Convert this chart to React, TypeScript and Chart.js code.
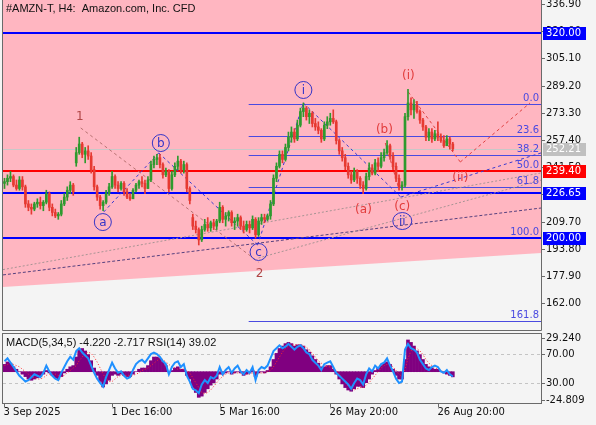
import React, { useEffect, useRef } from 'react';
import { Chart, registerables } from 'chart.js';
Chart.register(...registerables);

// ---------- DATA ----------
const titleText = '#AMZN-T, H4:  Amazon.com, Inc. CFD';
const indicatorText = 'MACD(5,34,5) -4.220 -2.717 RSI(14) 39.02';

// OHLC per H4 bar [open, high, low, close]
const candles: number[][] = [
  [232,235,229,233],[233,237,231,235],[235,239,233,236],[236,237,230,231],[231,234,228,229],
  [229,236,228,234],[234,236,228,230],[230,231,218,220],[220,222,216,218],[218,220,214,217],
  [217,221,216,220],[220,223,218,221],[221,224,217,219],[219,222,216,221],[221,228,220,226],
  [226,227,216,218],[218,220,213,215],[215,217,212,213],[213,215,211,214],[214,222,213,220],
  [220,226,219,224],[224,230,222,228],[228,233,226,231],[231,232,225,227],[244,253,242,250],
  [250,259,249,255],[255,256,247,249],[249,253,244,251],[251,254,246,248],[248,250,238,240],
  [240,242,228,230],[230,231,222,224],[224,225,217,219],[219,222,216,221],[221,228,220,226],
  [226,232,225,230],[230,239,229,236],[236,237,229,231],[231,233,227,229],[229,233,228,232],
  [232,233,225,227],[227,229,223,224],[224,226,222,223],[223,229,223,228],[228,232,227,231],
  [231,234,229,233],[233,236,230,232],[232,234,226,229],[229,236,229,234],[234,245,233,243],
  [243,248,241,246],[246,249,243,247],[247,249,241,243],[243,244,235,237],[237,241,236,239],
  [239,240,227,229],[229,239,228,237],[237,244,236,242],[242,248,240,245],[245,246,238,240],
  [240,245,238,243],[243,244,227,229],[229,230,220,222],[212,214,205,207],[207,210,203,205],
  [205,206,196,199],[199,207,198,205],[205,211,204,208],[208,212,204,206],[206,210,204,209],
  [209,211,205,207],[207,211,205,210],[210,221,209,218],[218,219,209,211],[211,215,207,213],
  [213,216,210,215],[215,216,207,209],[209,212,205,210],[210,214,207,212],[212,213,205,207],
  [207,210,203,205],[205,210,204,208],[208,210,203,206],[206,213,205,211],[211,212,200,202],
  [202,212,201,210],[210,214,208,212],[212,214,209,211],[211,214,210,213],[213,222,211,220],
  [220,237,219,235],[235,244,233,242],[242,251,241,249],[249,251,244,246],[246,255,245,253],
  [253,262,251,259],[259,265,256,262],[262,264,256,258],[258,269,257,266],[266,276,265,274],
  [274,279,271,276],[276,277,269,271],[271,275,267,273],[273,274,265,267],[267,270,263,265],
  [265,268,261,263],[263,264,256,258],[258,268,257,266],[266,271,264,268],[268,273,266,270],
  [270,275,267,268],[268,269,255,257],[257,258,249,251],[251,253,245,247],[247,249,240,242],
  [242,244,235,237],[237,239,232,234],[234,241,233,239],[239,240,232,235],[235,236,229,231],
  [231,233,226,229],[229,238,228,236],[236,244,234,241],[241,243,237,238],[238,246,237,244],
  [244,247,239,242],[242,250,241,247],[247,252,245,250],[250,257,249,254],[254,255,246,248],
  [248,250,240,242],[242,244,233,235],[235,237,228,230],[230,233,228,231],[231,273,230,271],
  [271,287,269,279],[279,282,272,275],[275,281,270,278],[278,280,273,274],[274,275,267,269],
  [269,270,263,265],[265,266,257,259],[259,264,257,262],[262,264,256,258],[258,263,257,261],
  [261,268,257,259],[259,261,256,257],[257,260,253,254],[254,260,254,258],[258,259,252,255],
  [255,256,251,252.21],
];

const macdMain = [
  6,8,7, 4,2,0,-2,-4, -6,-7,-6,-5,-4, -2,1,-1,-3,-5, -6,-4, -1,2,4,5,12, 18,19,17,
  14,9,3,-3,-8, -12.5, -10,-7,-3,-2,-3, -2,-3,-4,-4, -2,0,2,3,3,5, 9,12,12,11,8,
  5,0,1,3, 4,2,2,-3,-6, -13,-17,-21,-20,-17,-14, -11,-9,-6,-2,-2,
  -1,0,-2,-1,0,-1,-3,-2,-1,1,-4,-1, 0,-1,1, 4,10,15,19,21,23,24,23,21,22,
  22,21,18,16, 13,10,7,4,4,5, 5,2,-2,-6,-10, -13,-15,-16,-14,-12,-12,-13,-9,-6,
  -2,1,3,5,7,8,6,2, -3,-6,-6, 10,26, 24,21,17,14,10, 6,4,3,2,2, 0,-1,-2,-3,-4.22,
];

const macdSignal = [
  5,6,7, 6,5,4,2,0, -2,-4,-5,-6,-6, -5,-3,-2,-2,-2, -3,-4, -3,-1,1,3,5, 9,12,15,
  16,15,12,8,3, -2, -6,-8,-8,-6,-4, -3,-3,-3,-3, -3,-2,-1,1,2,3, 5,7,9,11,10,
  8,6,4,3, 2,2,2,1,-1, -5,-9,-13,-17,-18,-17, -15,-12,-9,-6,-4,
  -2,-1,-1,-1,-1,-1,-1,-2,-2,-1,-1,-1, -1,-1,0, 1,4,8,12,16,19,21,22,22,22,
  22,21,20,18, 15,12,9,7,5,4, 4,3,1,-2,-5, -9,-12,-14,-15,-14,-13,-13,-11,-9,
  -6,-3,0,3,5,6,6,4, 1,-2,-4, 2,11, 17,20,19,17,14, 10,7,5,3,2, 1,0,-1,-2,-2.717,
];

const rsiValues = [
  60,64,58, 52,46,40,36,32, 34,38,42,40,38, 44,54,46,40,36, 34,44, 52,60,66,62,74, 78,72,68,
  64,54,44,36,30, 25, 38,48,58,50,44, 46,40,36,38, 48,56,60,62,58,64, 70,72,70,66,60,
  56,42,52,58, 60,52,56,40,32, 22,20,16,28,34,30, 38,36,40,52,42,
  48,52,44,50,54,46,42,48,44,52,34,48, 52,50,54, 64,74,78,82,78,80,84,80,76,80,
  82,78,72,70, 62,58,54,48,56,58, 60,52,44,40,36, 32,28,22,30,36,34,28,42,50,
  46,54,50,56,58,64,54,46, 36,30,32, 76,84, 78,76,72,62,56, 50,48,52,54,52, 46,44,48,42,39.02,
];

const priceTicks = [162.0, 177.9, 193.8, 209.7, 225.6, 241.5, 257.4, 273.3, 289.2, 305.1, 321.0, 336.9];
const levelPrices = [320.0, 239.4, 226.65, 200.0];
const levelColors = ['#0000ff', '#ff0000', '#0000ff', '#0000ff'];
const bidPrice = 252.21;
const fibHigh = 278.45;
const fibLow = 200.0;
const fibRatios = [0.0, 23.6, 38.2, 50.0, 61.8, 100.0, 161.8];
const fibStart = 81.7;
const zoneX = [-0.5, 179.5];
const zoneLow = [171.4, 191.3];
const xTickIndices = [0, 36, 72, 109, 145];
const xTickLabels = ['3 Sep 2025', '1 Dec 16:00', '5 Mar 16:00', '26 May 20:00', '26 Aug 20:00'];
const macdTickLabels = ['29.240', '70.00', '30.00', '-24.809'];

const waveLines = [
  { x1: 25.5, y1: 264.4, x2: 85.0, y2: 186.0, color: '#b87272', dash: [3, 3] },
  { x1: 33.2, y1: 215.3, x2: 51.6, y2: 249.8, color: '#3a3ad0', dash: [3, 3] },
  { x1: 51.6, y1: 249.8, x2: 84.7, y2: 196.0, color: '#3a3ad0', dash: [3, 3] },
  { x1: 84.7, y1: 196.0, x2: 100.0, y2: 279.0, color: '#3a3ad0', dash: [3, 3] },
  { x1: 100.0, y1: 279.0, x2: 132.6, y2: 224.0, color: '#3a3ad0', dash: [3, 3] },
  { x1: 132.6, y1: 224.0, x2: 179.5, y2: 249.8, color: '#3a3ad0', dash: [3, 3] },
  { x1: 127.4, y1: 255.6, x2: 131.8, y2: 229.9, color: '#e04040', dash: [3, 3] },
  { x1: 135.1, y1: 285.4, x2: 152.5, y2: 244.5, color: '#e04040', dash: [3, 3] },
  { x1: 152.5, y1: 244.5, x2: 175.8, y2: 279.0, color: '#e04040', dash: [3, 3] },
  { x1: -0.5, y1: 181.6, x2: 179.5, y2: 238.1, color: '#a89494', dash: [2, 2] },
  { x1: -0.5, y1: 178.5, x2: 179.5, y2: 217.6, color: '#56407e', dash: [3, 2] },
  { x1: 85.0, y1: 188.4, x2: 179.5, y2: 233.9, color: '#a89494', dash: [2, 2] },
];

const waveLabels = [
  { t: '1', x: 25.2, y: 270.8, kind: 'brown' },
  { t: '2', x: 85.3, y: 179.0, kind: 'brown' },
  { t: 'a', x: 32.9, y: 209.4, kind: 'circle' },
  { t: 'b', x: 52.3, y: 255.6, kind: 'circle' },
  { t: 'c', x: 85.0, y: 191.9, kind: 'circle' },
  { t: 'i', x: 100.0, y: 286.6, kind: 'circle' },
  { t: 'ii', x: 133.1, y: 210.0, kind: 'circle' },
  { t: '(a)', x: 120.1, y: 216.4, kind: 'red' },
  { t: '(b)', x: 127.1, y: 263.2, kind: 'red' },
  { t: '(c)', x: 133.1, y: 218.2, kind: 'red' },
  { t: '(i)', x: 135.1, y: 294.8, kind: 'red' },
  { t: '(ii)', x: 152.5, y: 235.1, kind: 'red' },
];

// ---------- STYLE ----------
const BG = '#f4f4f4';
const PINK = '#ffb6c1';
const FRAME = '#6a6a6a';
const AXFONT = '10px "DejaVu Sans", sans-serif';
const BULL = '#2e9a2e';
const BEAR = '#e63a32';

const mainPlugin = {
  id: 'mainDecor',
  beforeDatasetsDraw(chart: any) {
    const { ctx, chartArea: a, scales } = chart;
    const X = (v: number) => scales.x.getPixelForValue(v);
    const Y = (v: number) => scales.y.getPixelForValue(v);
    ctx.save();
    ctx.beginPath();
    ctx.rect(a.left, a.top, a.right - a.left, a.bottom - a.top);
    ctx.clip();
    ctx.fillStyle = PINK;
    ctx.beginPath();
    ctx.moveTo(X(zoneX[0]), a.top);
    ctx.lineTo(X(zoneX[1]), a.top);
    ctx.lineTo(X(zoneX[1]), Y(zoneLow[1]));
    ctx.lineTo(X(zoneX[0]), Y(zoneLow[0]));
    ctx.closePath();
    ctx.fill();

    ctx.strokeStyle = '#c8c8c8';
    ctx.lineWidth = 1;
    const yb = Math.round(Y(bidPrice)) + 0.5;
    ctx.beginPath(); ctx.moveTo(a.left, yb); ctx.lineTo(a.right, yb); ctx.stroke();

    ctx.strokeStyle = '#4a4ae0';
    fibRatios.forEach((r) => {
      const p = fibHigh - (fibHigh - fibLow) * r / 100;
      const y = Math.round(Y(p)) + 0.5;
      ctx.beginPath(); ctx.moveTo(X(fibStart), y); ctx.lineTo(a.right, y); ctx.stroke();
    });

    levelPrices.forEach((p, k) => {
      ctx.strokeStyle = levelColors[k];
      ctx.lineWidth = 2;
      const y = Math.round(Y(p));
      ctx.beginPath(); ctx.moveTo(a.left, y); ctx.lineTo(a.right, y); ctx.stroke();
    });

    ctx.lineWidth = 1;
    waveLines.forEach((l) => {
      ctx.strokeStyle = l.color;
      ctx.setLineDash(l.dash);
      ctx.beginPath(); ctx.moveTo(X(l.x1), Y(l.y1)); ctx.lineTo(X(l.x2), Y(l.y2)); ctx.stroke();
    });
    ctx.setLineDash([]);
    ctx.restore();
  },
  afterDatasetsDraw(chart: any) {
    const { ctx, chartArea: a, scales } = chart;
    const X = (v: number) => scales.x.getPixelForValue(v);
    const Y = (v: number) => scales.y.getPixelForValue(v);
    ctx.save();
    ctx.textBaseline = 'middle';
    ctx.font = '12px "DejaVu Sans", sans-serif';
    ctx.textAlign = 'center';
    waveLabels.forEach((w) => {
      const x = X(w.x), y = Y(w.y);
      if (w.kind === 'circle') {
        ctx.strokeStyle = '#3535c8';
        ctx.fillStyle = '#3535c8';
        ctx.lineWidth = 1;
        ctx.beginPath(); ctx.ellipse(x, y, w.t.length > 1 ? 9.5 : 8.5, 8.5, 0, 0, Math.PI * 2); ctx.stroke();
        ctx.fillText(w.t, x, y + 0.5);
      } else {
        ctx.fillStyle = w.kind === 'red' ? '#e23c3c' : '#b04646';
        ctx.fillText(w.t, x, y);
      }
    });
    ctx.font = AXFONT;
    ctx.fillStyle = '#4a4ae0';
    ctx.textAlign = 'right';
    ctx.textBaseline = 'bottom';
    fibRatios.forEach((r) => {
      const p = fibHigh - (fibHigh - fibLow) * r / 100;
      ctx.fillText(r.toFixed(1), a.right - 2, Math.round(Y(p)) - 1);
    });
    ctx.restore();
  },
  afterDraw(chart: any) {
    const { ctx, chartArea: a, scales } = chart;
    const Y = (v: number) => scales.y.getPixelForValue(v);
    ctx.save();
    ctx.strokeStyle = FRAME;
    ctx.lineWidth = 1;
    ctx.beginPath();
    ctx.moveTo(a.left - 0.5, a.top); ctx.lineTo(a.left - 0.5, a.bottom + 0.5);
    ctx.lineTo(a.right + 0.5, a.bottom + 0.5); ctx.lineTo(a.right + 0.5, a.top);
    ctx.stroke();
    ctx.font = AXFONT;
    ctx.textBaseline = 'middle';
    ctx.textAlign = 'left';
    ctx.fillStyle = '#111';
    priceTicks.forEach((t) => {
      const y = Math.round(Y(t)) + 0.5;
      ctx.beginPath(); ctx.moveTo(a.right, y); ctx.lineTo(a.right + 4, y); ctx.stroke();
      ctx.fillText(t.toFixed(2), a.right + 5, y);
    });
    const boxes = [
      { p: levelPrices[0], c: levelColors[0] },
      { p: bidPrice, c: '#c0c0c0' },
      { p: levelPrices[1], c: levelColors[1] },
      { p: levelPrices[2], c: levelColors[2] },
      { p: levelPrices[3], c: levelColors[3] },
    ];
    boxes.forEach((b) => {
      const y = Math.round(Y(b.p));
      ctx.fillStyle = b.c;
      ctx.fillRect(a.right + 2, y - 6, 43, 13);
      ctx.fillStyle = '#ffffff';
      ctx.fillText(b.p.toFixed(2), a.right + 5, y + 0.5);
    });
    ctx.fillStyle = '#111';
    ctx.font = '11px "Liberation Sans", sans-serif';
    ctx.fillText(titleText, 6, 9);
    ctx.restore();
  },
};

const subPlugin = {
  id: 'subDecor',
  beforeDatasetsDraw(chart: any) {
    const { ctx, chartArea: a, scales } = chart;
    ctx.save();
    ctx.strokeStyle = '#c4c4c4';
    ctx.setLineDash([3, 3]);
    ctx.lineWidth = 1;
    [70, 30].forEach((v) => {
      const y = Math.round(scales.yr.getPixelForValue(v)) + 0.5;
      ctx.beginPath(); ctx.moveTo(a.left, y); ctx.lineTo(a.right, y); ctx.stroke();
    });
    ctx.restore();
  },
  afterDraw(chart: any) {
    const { ctx, chartArea: a, scales } = chart;
    ctx.save();
    ctx.strokeStyle = FRAME;
    ctx.lineWidth = 1;
    ctx.strokeRect(a.left - 0.5, 0.5, a.right - a.left + 1, a.bottom + 1);
    ctx.font = AXFONT;
    ctx.fillStyle = '#111';
    ctx.textBaseline = 'middle';
    ctx.textAlign = 'left';
    const ys = [a.top + 2, scales.yr.getPixelForValue(70), scales.yr.getPixelForValue(30), a.bottom - 2];
    ys.forEach((y, k) => {
      const yy = Math.round(y) + 0.5;
      ctx.beginPath(); ctx.moveTo(a.right, yy); ctx.lineTo(a.right + 4, yy); ctx.stroke();
      ctx.fillText(macdTickLabels[k], a.right + 5, yy);
    });
    xTickIndices.forEach((idx, k) => {
      const x = Math.round(scales.x.getPixelForValue(idx)) + 0.5;
      ctx.beginPath(); ctx.moveTo(x, a.bottom + 1.5); ctx.lineTo(x, a.bottom + 5); ctx.stroke();
      ctx.fillText(xTickLabels[k], x - 1, a.bottom + 10);
    });
    ctx.font = '11px "Liberation Sans", sans-serif';
    ctx.fillText(indicatorText, 6, 10);
    ctx.restore();
  },
};

export default function App() {
  const mainRef = useRef<HTMLCanvasElement>(null);
  const subRef = useRef<HTMLCanvasElement>(null);

  useEffect(() => {
    const colors = candles.map((c) => (c[3] >= c[0] ? BULL : BEAR));
    const wicks = candles.map((c, i) => ({ x: i, y: [c[2], c[1]] }));
    const bodies = candles.map((c, i) => ({ x: i, y: [Math.min(c[0], c[3]), Math.max(c[0], c[3])] }));

    const main = new Chart(mainRef.current as HTMLCanvasElement, {
      type: 'bar',
      data: {
        datasets: [
          { data: wicks as any, backgroundColor: colors, barThickness: 1, grouped: false, order: 2 },
          { data: bodies as any, backgroundColor: colors, barThickness: 2, grouped: false, order: 1 },
        ],
      },
      options: {
        animation: false,
        responsive: false,
        events: [],
        layout: { padding: { left: 3, right: 55, top: 0, bottom: 3 } },
        scales: {
          x: { type: 'linear', offset: false, min: -0.5, max: 179.5, display: false },
          y: { type: 'linear', min: 146.3, max: 339.2, display: false },
        },
        plugins: { legend: { display: false }, tooltip: { enabled: false } },
      },
      plugins: [mainPlugin],
    });

    const sub = new Chart(subRef.current as HTMLCanvasElement, {
      type: 'bar',
      data: {
        datasets: [
          { type: 'line', data: rsiValues.map((v, i) => ({ x: i, y: v })), borderColor: '#1e90ff', borderWidth: 2, pointRadius: 0, yAxisID: 'yr', order: 0 } as any,
          { type: 'line', data: macdSignal.map((v, i) => ({ x: i, y: v })), borderColor: '#ff2a2a', borderWidth: 1, borderDash: [1, 2], pointRadius: 0, yAxisID: 'ym', order: 1 } as any,
          { type: 'bar', data: macdMain.map((v, i) => ({ x: i, y: v })), backgroundColor: '#800080', barThickness: 3, grouped: false, yAxisID: 'ym', order: 2 } as any,
        ],
      },
      options: {
        animation: false,
        responsive: false,
        events: [],
        layout: { padding: { left: 3, right: 55, top: 3, bottom: 23 } },
        scales: {
          x: { type: 'linear', offset: false, min: -0.5, max: 179.5, display: false },
          ym: { type: 'linear', min: -24.809, max: 29.24, display: false },
          yr: { type: 'linear', min: 3.8, max: 94.8, display: false },
        },
        plugins: { legend: { display: false }, tooltip: { enabled: false } },
      },
      plugins: [subPlugin],
    });

    return () => { main.destroy(); sub.destroy(); };
  }, []);

  return (
    <div style={{ position: 'absolute', left: 0, top: 0, width: 596, height: 425, background: BG, overflow: 'hidden' }}>
      <canvas ref={mainRef} width={596} height={333} style={{ position: 'absolute', left: 0, top: 0, width: 596, height: 333 }} />
      <canvas ref={subRef} width={596} height={92} style={{ position: 'absolute', left: 0, top: 333, width: 596, height: 92 }} />
    </div>
  );
}
